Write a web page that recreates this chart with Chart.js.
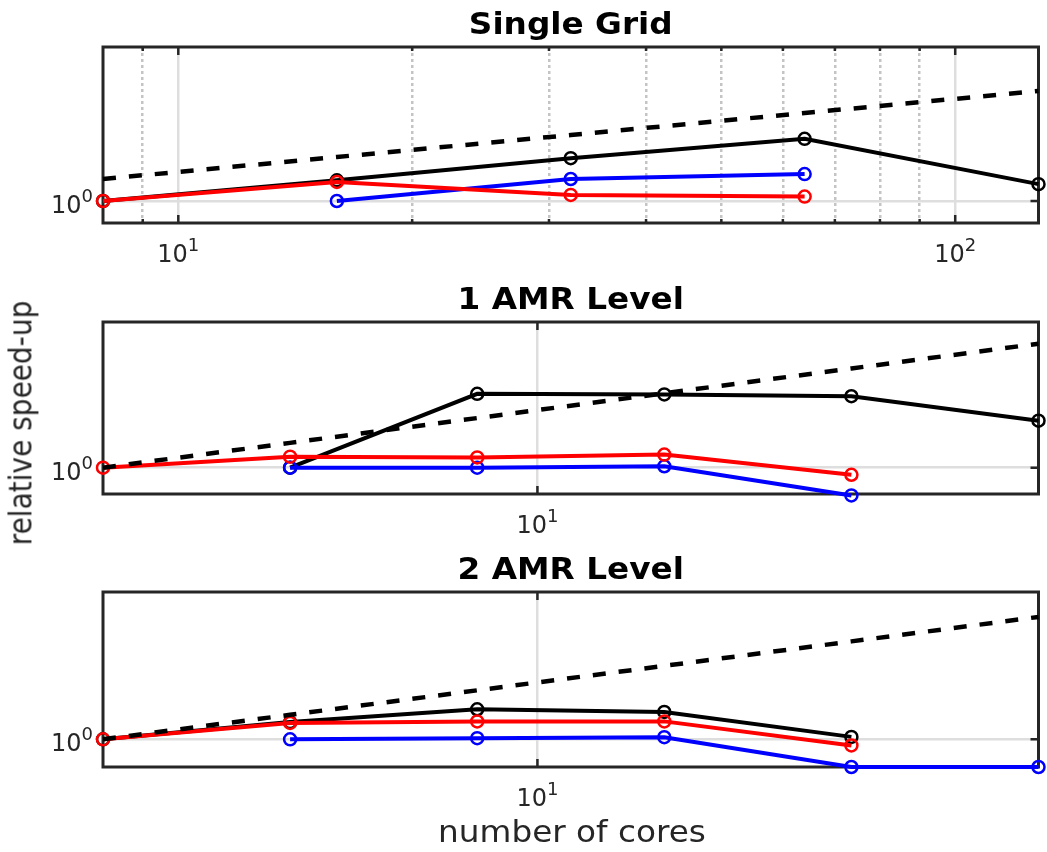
<!DOCTYPE html>
<html>
<head>
<meta charset="utf-8">
<script src="https://cdn.jsdelivr.net/npm/chart.js@4.4.0/dist/chart.umd.min.js"></script>
<style>
  body { margin: 0; background: #fff; }
  #wrap { position: relative; width: 1047px; height: 852px; overflow: hidden; }
  canvas { position: absolute; left: 0; top: 0; }
  .lbl { position: absolute; font-family: "DejaVu Sans"; color: #262626; white-space: nowrap; line-height: 1; }
  #ylab { left: 21px; top: 423px; font-size: 28px; transform: translate(-50%, -50%) rotate(-90deg) scaleY(1.15); }
  #xlab { left: 572px; top: 832px; font-size: 30px; transform: translate(-50%, -50%) scaleX(1.09); }
</style>
</head>
<body>
<div id="wrap">
  <canvas id="c1" width="1047" height="852"></canvas>
  <canvas id="c2" width="1047" height="852"></canvas>
  <canvas id="c3" width="1047" height="852"></canvas>
  <div class="lbl" id="ylab">relative speed-up</div>
  <div class="lbl" id="xlab">number of cores</div>
</div>
<script>
// Single Grid
const cores1 = [8, 16, 32, 64, 128];
const ideal1 = [2, 4, 8, 16, 32];
const black1 = [1, 1.92, 3.85, 7.1, 1.7];
const blue1 = [null, 1, 2.0, 2.34, null];
const red1 = [1, 1.82, 1.21, 1.15, null];

// 1 AMR Level
const cores2 = [2, 4, 8, 16, 32, 64];
const ideal2 = [1, 2, 4, 8, 16, 32];
const black2 = [null, 1, 7.88, 7.73, 7.36, 3.72];
const blue2 = [null, 1, 1, 1.04, 0.46, null];
const red2 = [1, 1.36, 1.33, 1.44, 0.82, null];

// 2 AMR Level
const cores3 = [2, 4, 8, 16, 32, 64];
const ideal3 = [1, 2, 4, 8, 16, 32];
const black3 = [1, 1.63, 2.34, 2.17, 1.07, null];
const blue3 = [null, 1, 1.03, 1.06, 0.456, 0.456];
const red3 = [1, 1.59, 1.66, 1.66, 0.84, null];

// axis ticks
const xMinor1 = [9, 20, 30, 40, 50, 60, 70, 80, 90];
const xMajor1 = [10, 100];
const xMajor23 = [10];
const yMajor = [1];

const FRAME = '#262626';

function pts(xs, ys) {
  const out = [];
  xs.forEach((x, i) => { if (ys[i] != null) out.push({ x: x, y: ys[i] }); });
  return out;
}

function powLabel(ctx, v, x, baseline, align) {
  const exp = String(Math.round(Math.log10(v)));
  ctx.font = '24px "DejaVu Sans"';
  const w1 = ctx.measureText('10').width;
  ctx.font = '18px "DejaVu Sans"';
  const w2 = ctx.measureText(exp).width;
  const left = align === 'center' ? x - (w1 + w2) / 2 : x - (w1 + w2);
  ctx.fillStyle = FRAME;
  ctx.textAlign = 'left';
  ctx.textBaseline = 'alphabetic';
  ctx.font = '24px "DejaVu Sans"';
  ctx.fillText('10', left, baseline);
  ctx.font = '18px "DejaVu Sans"';
  ctx.fillText(exp, left + w1, baseline - 11);
}

// frame, inside ticks, tick labels and title (matlab look)
const framePlugin = {
  id: 'frame',
  beforeDatasetsDraw(chart, args, opts) {
    const { ctx, chartArea: a } = chart;
    const x = chart.scales.x, y = chart.scales.y;
    ctx.save();
    ctx.strokeStyle = FRAME;
    ctx.lineWidth = 2.5;
    ctx.beginPath();
    opts.xMinor.concat(opts.xMajor).forEach(v => {
      const px = x.getPixelForValue(v);
      const len = opts.xMajor.includes(v) ? 8 : 4;
      ctx.moveTo(px, a.bottom); ctx.lineTo(px, a.bottom - len);
      ctx.moveTo(px, a.top); ctx.lineTo(px, a.top + len);
    });
    yMajor.forEach(v => {
      const py = y.getPixelForValue(v);
      ctx.moveTo(a.left, py); ctx.lineTo(a.left + 8, py);
      ctx.moveTo(a.right, py); ctx.lineTo(a.right - 8, py);
    });
    ctx.stroke();
    ctx.lineWidth = 3;
    ctx.strokeRect(a.left, a.top, a.right - a.left, a.bottom - a.top);

    opts.xMajor.forEach(v => powLabel(ctx, v, x.getPixelForValue(v), a.bottom + 39, 'center'));
    yMajor.forEach(v => powLabel(ctx, v, a.left - 10, y.getPixelForValue(v) + 12, 'right'));

    ctx.fillStyle = '#000';
    ctx.font = 'bold 30px "DejaVu Sans"';
    ctx.textAlign = 'center';
    ctx.translate((a.left + a.right) / 2, a.top - 13);
    ctx.scale(1.09, 1);
    ctx.fillText(opts.title, 0, 0);
    ctx.restore();
  }
};

function lineSet(data, color) {
  return {
    data: data,
    borderColor: color,
    borderWidth: 4,
    pointStyle: 'circle',
    pointRadius: 6,
    pointBorderWidth: 2.5,
    pointBackgroundColor: 'rgba(0,0,0,0)',
    pointBorderColor: color,
    clip: false
  };
}

function makeChart(id, cores, ideal, black, blue, red, p) {
  const allX = p.xMinor.concat(p.xMajor);
  return new Chart(document.getElementById(id), {
    type: 'line',
    data: {
      datasets: [
        {
          data: pts(cores, ideal),
          borderColor: '#000',
          borderWidth: 4.5,
          borderDash: [13, 13],
          pointRadius: 0,
          clip: false
        },
        lineSet(pts(cores, red), '#ff0000'),
        lineSet(pts(cores, blue), '#0000ff'),
        lineSet(pts(cores, black), '#000000')
      ]
    },
    options: {
      responsive: false,
      animation: false,
      events: [],
      layout: { padding: p.pad },
      plugins: {
        legend: { display: false },
        tooltip: { enabled: false },
        frame: { title: p.title, xMinor: p.xMinor, xMajor: p.xMajor }
      },
      scales: {
        x: {
          type: 'logarithmic',
          bounds: 'data',
          min: p.xmin,
          max: p.xmax,
          afterBuildTicks: s => { s.ticks = allX.map(v => ({ value: v })); },
          ticks: { display: false },
          grid: {
            drawTicks: false,
            lineWidth: 2.5,
            color: c => p.xMajor.includes(c.tick.value) ? '#dedede' : '#c4c4c4'
          },
          border: {
            display: false,
            dash: c => p.xMajor.includes(c.tick.value) ? [] : [3, 3]
          }
        },
        y: {
          type: 'logarithmic',
          bounds: 'data',
          min: p.ymin,
          max: p.ymax,
          afterBuildTicks: s => { s.ticks = yMajor.map(v => ({ value: v })); },
          ticks: { display: false },
          grid: { drawTicks: false, lineWidth: 2.5, color: '#dedede' },
          border: { display: false }
        }
      }
    },
    plugins: [framePlugin]
  });
}

makeChart('c1', cores1, ideal1, black1, blue1, red1, {
  title: 'Single Grid', xmin: 8, xmax: 128, ymin: 0.5, ymax: 128,
  xMinor: xMinor1, xMajor: xMajor1,
  pad: { left: 103, right: 7, top: 47, bottom: 629 }
});
makeChart('c2', cores2, ideal2, black2, blue2, red2, {
  title: '1 AMR Level', xmin: 2, xmax: 64, ymin: 0.479, ymax: 58.6,
  xMinor: [], xMajor: xMajor23,
  pad: { left: 103, right: 7, top: 322, bottom: 358 }
});
makeChart('c3', cores3, ideal3, black3, blue3, red3, {
  title: '2 AMR Level', xmin: 2, xmax: 64, ymin: 0.456, ymax: 64.8,
  xMinor: [], xMajor: xMajor23,
  pad: { left: 103, right: 7, top: 592, bottom: 85 }
});
</script>
</body>
</html>
